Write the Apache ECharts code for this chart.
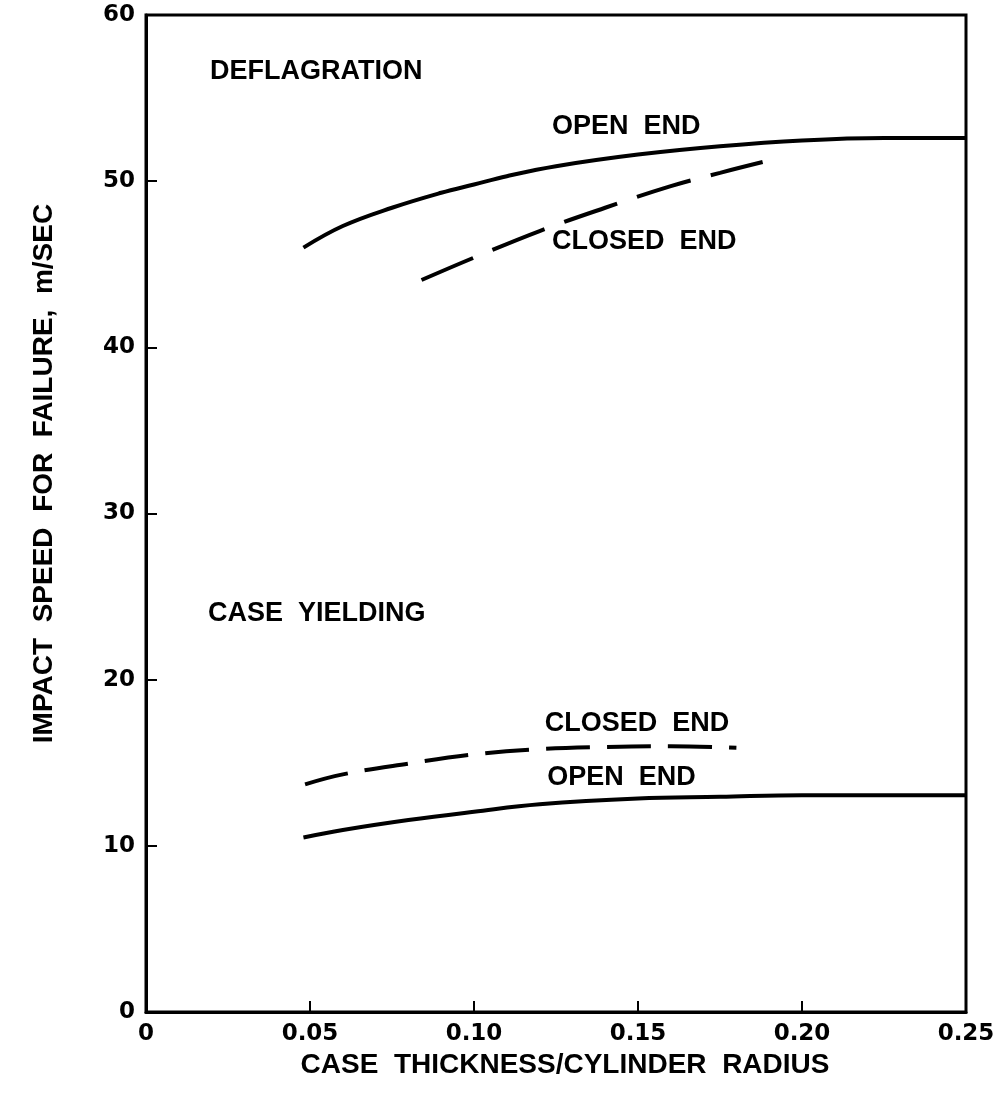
<!DOCTYPE html>
<html>
<head>
<meta charset="utf-8">
<script src="https://cdn.jsdelivr.net/npm/echarts@6/dist/echarts.min.js"></script>
<style>
  html, body { margin: 0; padding: 0; background: #fff; }
  #chart { width: 1000px; height: 1096px; }
</style>
</head>
<body>
<div id="chart"></div>
<script>
// Axis ticks
const xTicks = [0, 0.05, 0.10, 0.15, 0.20, 0.25];
const yTicks = [0, 10, 20, 30, 40, 50, 60];

// Deflagration, open end (solid)
const deflagOpenX = [0.048, 0.06, 0.075, 0.09, 0.10, 0.11, 0.125, 0.15, 0.175, 0.20, 0.225, 0.25];
const deflagOpenY = [46.0, 47.3, 48.4, 49.3, 49.8, 50.3, 50.9, 51.6, 52.1, 52.45, 52.6, 52.6];

// Deflagration, closed end (dashed)
const deflagClosedX = [0.084, 0.10, 0.12, 0.14, 0.16, 0.175, 0.188];
const deflagClosedY = [44.05, 45.4, 47.0, 48.4, 49.7, 50.5, 51.15];

// Case yielding, open end (solid)
const yieldOpenX = [0.048, 0.06, 0.08, 0.10, 0.12, 0.15, 0.175, 0.20, 0.25];
const yieldOpenY = [10.5, 10.95, 11.55, 12.05, 12.5, 12.85, 12.95, 13.05, 13.05];

// Case yielding, closed end (dashed)
const yieldClosedX = [0.0485, 0.06, 0.08, 0.10, 0.12, 0.14, 0.16, 0.18];
const yieldClosedY = [13.7, 14.3, 14.95, 15.5, 15.82, 15.95, 16.0, 15.9];

// In-plot annotations: text, x, y (data coordinates of the text's left/middle)
const noteText = ['DEFLAGRATION', 'OPEN  END', 'CLOSED  END', 'CASE  YIELDING', 'CLOSED  END', 'OPEN  END'];
const noteX = [0.0195, 0.1238, 0.1238, 0.0189, 0.1216, 0.1223];
const noteY = [56.6, 53.26, 46.34, 23.95, 17.33, 14.08];

const zip = (xs, ys) => xs.map((x, i) => [x, ys[i]]);

const textFont = '"Liberation Sans", Arial, sans-serif';
const numFont = '"DejaVu Sans", sans-serif';

const curveSeries = (data, dash) => ({
  type: 'line',
  data: data,
  smooth: 0.4,
  showSymbol: false,
  silent: true,
  lineStyle: { color: '#000', width: 4, type: dash || 'solid', cap: 'butt', opacity: 1 }
});

const chart = echarts.init(document.getElementById('chart'), null, { renderer: 'canvas' });

chart.setOption({
  animation: false,
  backgroundColor: '#fff',
  grid: {
    left: 146, right: 34, top: 15, bottom: 84,
    show: true, borderColor: '#000', borderWidth: 3
  },
  xAxis: {
    type: 'value',
    min: xTicks[0], max: xTicks[xTicks.length - 1], interval: 0.05,
    name: 'CASE  THICKNESS/CYLINDER  RADIUS',
    nameLocation: 'middle', nameGap: 36,
    nameTextStyle: {
      fontFamily: textFont, fontWeight: 'bold', fontSize: 28, color: '#000',
      padding: [0, 0, 0, 18]
    },
    axisLine: { lineStyle: { color: '#000', width: 3 } },
    axisTick: { inside: true, length: 11, lineStyle: { color: '#000', width: 2 } },
    axisLabel: {
      margin: 11, color: '#000', fontFamily: numFont, fontWeight: 'bold', fontSize: 23,
      formatter: v => (v === 0 ? '0' : v.toFixed(2))
    },
    splitLine: { show: false }
  },
  yAxis: {
    type: 'value',
    min: yTicks[0], max: yTicks[yTicks.length - 1], interval: 10,
    name: 'IMPACT  SPEED  FOR  FAILURE,  m/SEC',
    nameLocation: 'middle', nameGap: 88,
    nameTextStyle: {
      fontFamily: textFont, fontWeight: 'bold', fontSize: 28, color: '#000',
      padding: [0, 0, 0, 80]
    },
    axisLine: { lineStyle: { color: '#000', width: 3 } },
    axisTick: { inside: true, length: 11, lineStyle: { color: '#000', width: 2 } },
    axisLabel: { margin: 11, color: '#000', fontFamily: numFont, fontWeight: 'bold', fontSize: 23 },
    splitLine: { show: false }
  },
  series: [
    curveSeries(zip(deflagOpenX, deflagOpenY)),
    curveSeries(zip(deflagClosedX, deflagClosedY), [56, 21]),
    curveSeries(zip(yieldOpenX, yieldOpenY)),
    curveSeries(zip(yieldClosedX, yieldClosedY), [44, 17]),
    {
      type: 'scatter',
      symbolSize: 0,
      silent: true,
      itemStyle: { color: '#000', opacity: 1 },
      data: noteText.map((t, i) => ({ value: [noteX[i], noteY[i]], name: t })),
      label: {
        show: true, position: 'right', distance: 0,
        formatter: p => p.name,
        color: '#000', opacity: 1,
        fontFamily: textFont, fontWeight: 'bold', fontSize: 27
      }
    }
  ]
});
</script>
</body>
</html>
